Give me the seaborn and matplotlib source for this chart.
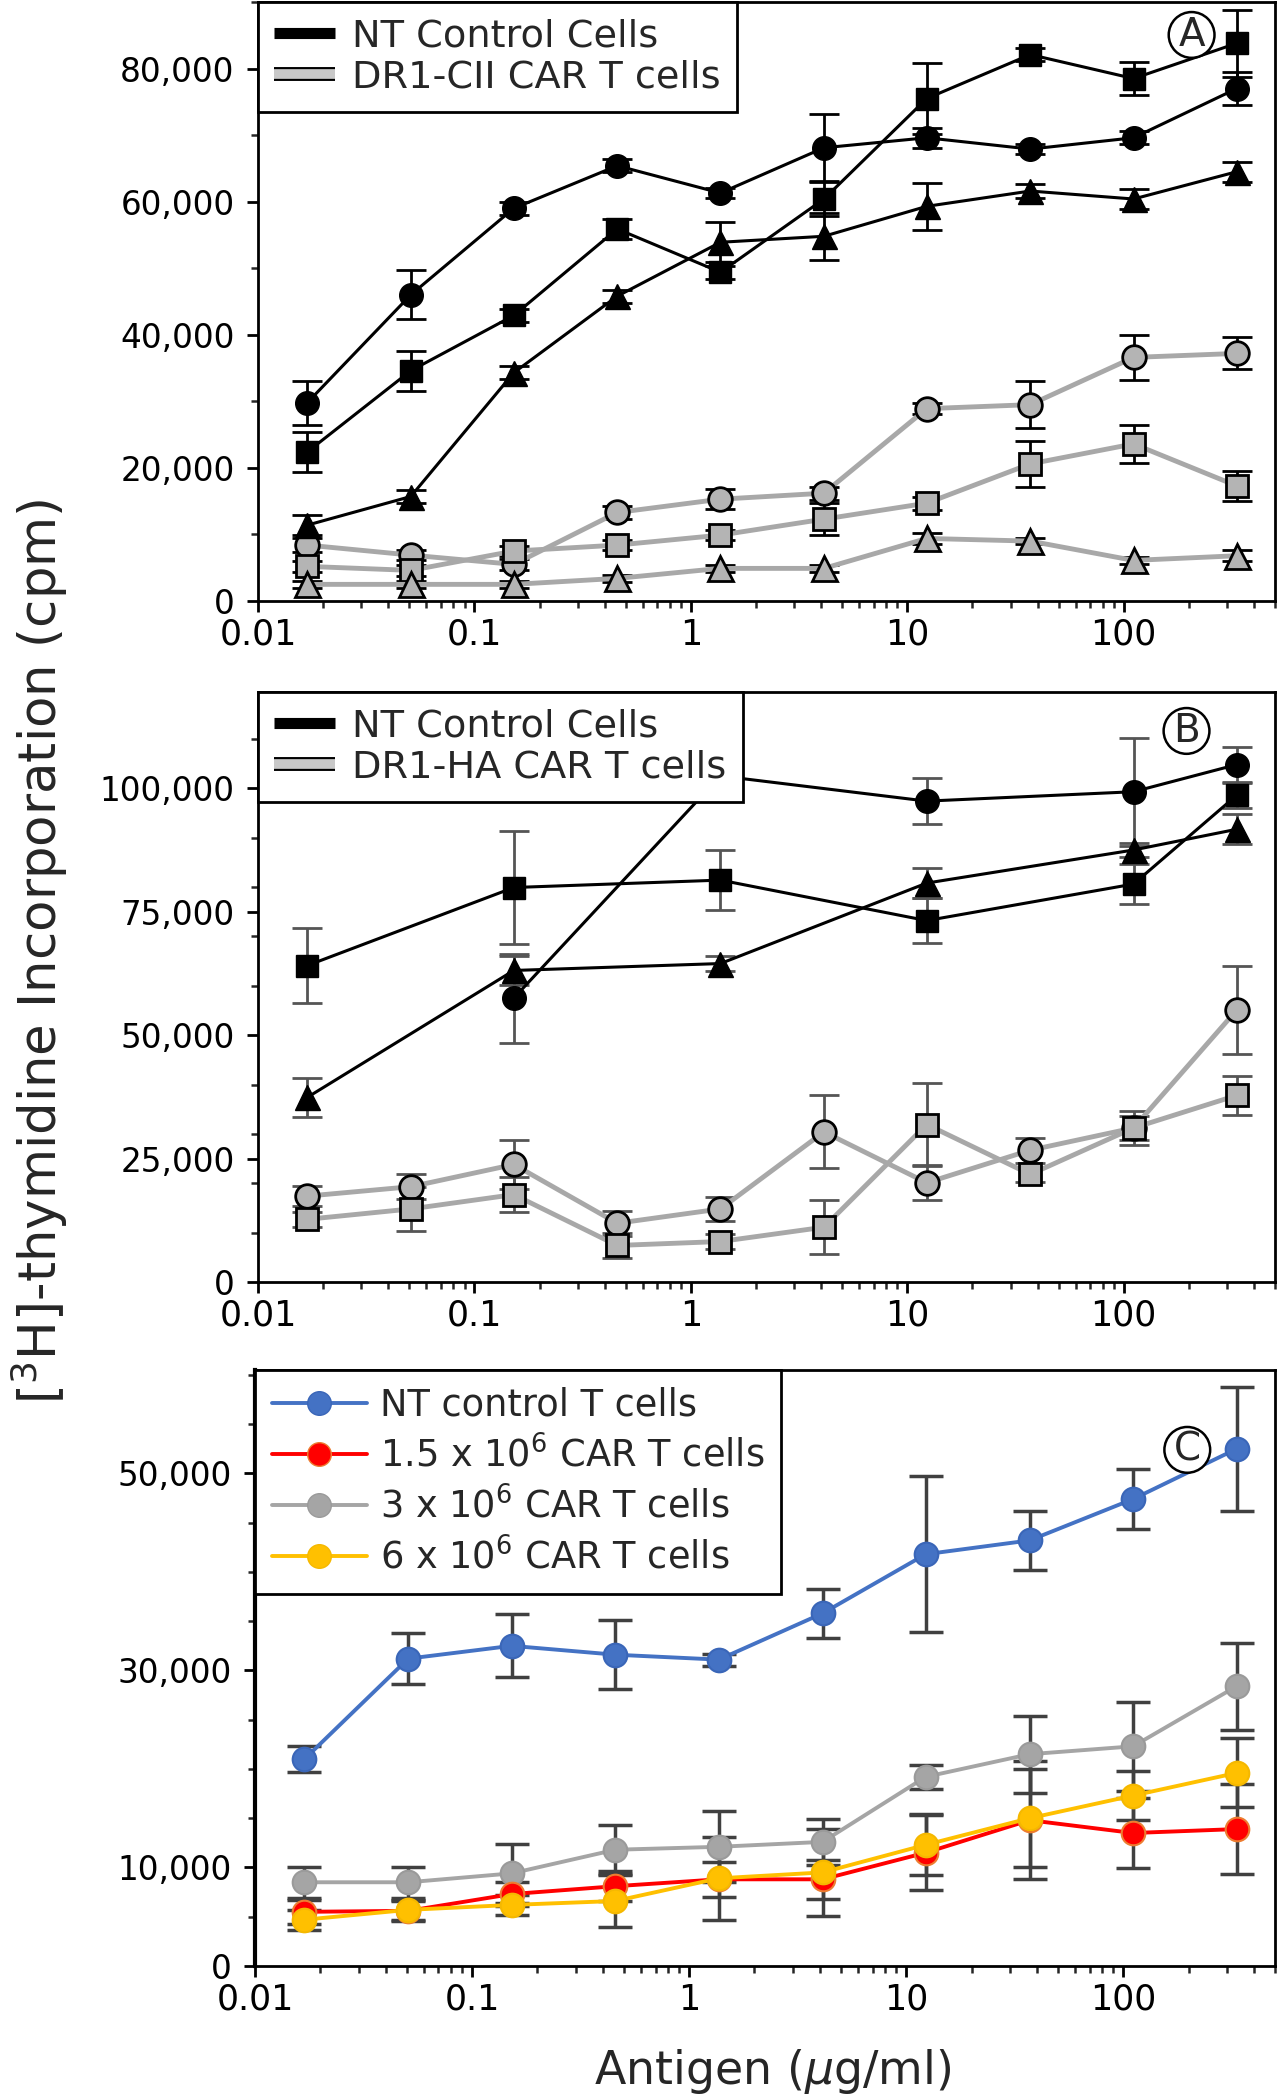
import numpy as np
import pandas as pd
import matplotlib
matplotlib.use("Agg")
import matplotlib.pyplot as plt
import matplotlib.ticker as mticker
import matplotlib.patheffects as pe
from matplotlib.lines import Line2D
import seaborn as sns

# ---------------- data ----------------
antigen = [0.0169, 0.0508, 0.152, 0.457, 1.37, 4.12, 12.3, 37.0, 111, 333]
x_ticks = [0.01, 0.1, 1, 10, 100]
x_tick_labels = ["0.01", "0.1", "1", "10", "100"]

# Panel A
A_nt_circle = [29800, 46000, 59000, 65400, 61300, 68100, 69600, 67900, 69600, 77000]
A_nt_circle_err = [3300, 3700, 1000, 1000, 800, 5000, 1500, 800, 1000, 2500]
A_nt_square = [22400, 34600, 42900, 55900, 49400, 60400, 75500, 82100, 78500, 83800]
A_nt_square_err = [3000, 3000, 1000, 1500, 1000, 2500, 5400, 1000, 2500, 5000]
A_nt_tri = [11400, 15700, 34300, 45800, 53900, 54800, 59300, 61600, 60400, 64500]
A_nt_tri_err = [1500, 1000, 1000, 1000, 3000, 3500, 3500, 1000, 1500, 1500]
A_car_circle = [8400, 6900, 5500, 13300, 15300, 16200, 28900, 29500, 36600, 37200]
A_car_circle_err = [1000, 800, 800, 1000, 1500, 1000, 800, 3500, 3400, 2400]
A_car_square = [5200, 4600, 7500, 8400, 9900, 12300, 14700, 20600, 23600, 17300]
A_car_square_err = [800, 800, 800, 800, 800, 2400, 1000, 3400, 2800, 2300]
A_car_tri = [2500, 2500, 2500, 3400, 4900, 4900, 9400, 9000, 6100, 6800]
A_car_tri_err = [500, 500, 500, 500, 500, 500, 800, 500, 500, 800]

# Panel B
B_nt_circle_x = [0.152, 1.37, 12.3, 111, 333]
B_nt_circle = [57500, 102500, 97400, 99300, 104800]
B_nt_circle_err = [9000, 0, 4600, 10900, 3600]
B_nt_sq_x = [0.0169, 0.152, 1.37, 12.3, 111, 333]
B_nt_square = [64100, 79900, 81400, 73200, 80600, 98600]
B_nt_square_err = [7500, 11500, 6000, 4500, 4000, 2500]
B_nt_tri = [37400, 63100, 64500, 80800, 87500, 91700]
B_nt_tri_err = [4000, 3000, 1500, 3000, 1500, 3000]
B_car_circle = [17400, 19300, 23800, 11900, 14800, 30400, 20100, 26700, 31200, 55100]
B_car_circle_err = [2000, 2500, 5000, 2500, 2500, 7400, 3500, 2500, 2500, 9000]
B_car_square = [12700, 14800, 17700, 7400, 8200, 11100, 31900, 21800, 31200, 37800]
B_car_square_err = [1500, 4500, 3500, 2500, 1500, 5500, 8500, 1500, 3500, 4000]

# Panel C
C_labels = ["NT control T cells", "1.5 x 10$^6$ CAR T cells",
            "3 x 10$^6$ CAR T cells", "6 x 10$^6$ CAR T cells"]
C_nt = [21000, 31200, 32500, 31600, 31100, 35800, 41800, 43200, 47400, 52500]
C_nt_err = [1300, 2600, 3200, 3500, 600, 2500, 7900, 3000, 3000, 6300]
C_15 = [5500, 5600, 7300, 8100, 8800, 8800, 11500, 14800, 13500, 13900]
C_15_err = [1200, 1000, 1200, 1500, 1800, 2000, 3800, 6000, 3600, 4600]
C_3 = [8500, 8500, 9400, 11800, 12100, 12600, 19200, 21500, 22300, 28400]
C_3_err = [1600, 1600, 3000, 2500, 3600, 2300, 1200, 3900, 4500, 4400]
C_6 = [4700, 5700, 6200, 6600, 8900, 9500, 12300, 15000, 17300, 19600]
C_6_err = [1000, 1000, 1000, 2600, 4200, 4400, 3100, 5000, 2500, 3500]

# ---------------- style ----------------
sns.set_theme(style="ticks")
plt.rcParams["font.family"] = ["DejaVu Sans"]
plt.rcParams["axes.linewidth"] = 2.0

fig = plt.figure(figsize=(12.79, 21.0), dpi=100)
axA = fig.add_axes([258/1279, 1 - 601/2100, 1017/1279, 599/2100])
axB = fig.add_axes([258/1279, 1 - 1282/2100, 1017/1279, 590/2100])
axC = fig.add_axes([255/1279, 1 - 1966/2100, 1020/1279, 596/2100])

BLACK = "black"
GRAY_LINE = "#a8a8a8"
GRAY_FILL = "#b4b4b4"


def series(ax, x, y, err, color, marker, ms, lw, mfc, mec, mew, ecolor, elw=2.0, cap=11):
    ax.errorbar(x, y, yerr=err, fmt="none", ecolor=ecolor, elinewidth=elw,
                capsize=cap, capthick=elw, zorder=2)
    sns.lineplot(x=x, y=y, ax=ax, color=color, marker=marker, markersize=ms,
                 linewidth=lw, markerfacecolor=mfc, markeredgecolor=mec,
                 markeredgewidth=mew, legend=False, errorbar=None, zorder=3)


def fmt_axis(ax):
    ax.set_xscale("log")
    ax.set_xlim(0.01, 500)
    ax.xaxis.set_major_locator(mticker.FixedLocator(x_ticks))
    ax.xaxis.set_major_formatter(mticker.FixedFormatter(x_tick_labels))
    ax.xaxis.set_minor_locator(mticker.LogLocator(base=10, subs=np.arange(2, 10)))
    ax.xaxis.set_minor_formatter(mticker.NullFormatter())
    ax.tick_params(axis="both", which="major", direction="out", length=8, width=2,
                   colors="black")
    ax.tick_params(axis="both", which="minor", direction="out", length=5, width=1.8)
    ax.tick_params(axis="x", which="major", pad=4, labelsize=25)
    ax.tick_params(axis="y", which="major", pad=9, labelsize=23.5)
    for s in ax.spines.values():
        s.set_linewidth(2)
        s.set_color("black")
    ax.set_xlabel("")
    ax.set_ylabel("")


def circled(ax, letter, x, y):
    ax.text(x, y, letter, transform=ax.transAxes, ha="center", va="center",
            fontsize=28, zorder=10,
            bbox=dict(boxstyle="circle,pad=0.1", fc="white", ec="black", lw=1.8))


comma = mticker.FuncFormatter(lambda v, p: f"{v:,.0f}")

# ---------------- Panel A ----------------
ax = axA
series(ax, antigen, A_car_circle, A_car_circle_err, GRAY_LINE, "o", 17, 3.5, GRAY_FILL, BLACK, 2, BLACK)
series(ax, antigen, A_car_square, A_car_square_err, GRAY_LINE, "s", 16, 3.5, GRAY_FILL, BLACK, 2, BLACK)
series(ax, antigen, A_car_tri, A_car_tri_err, GRAY_LINE, "^", 18, 3.5, GRAY_FILL, BLACK, 2, BLACK)
series(ax, antigen, A_nt_circle, A_nt_circle_err, BLACK, "o", 17, 2.2, BLACK, BLACK, 1, BLACK)
series(ax, antigen, A_nt_square, A_nt_square_err, BLACK, "s", 16, 2.2, BLACK, BLACK, 1, BLACK)
series(ax, antigen, A_nt_tri, A_nt_tri_err, BLACK, "^", 18, 2.2, BLACK, BLACK, 1, BLACK)
fmt_axis(ax)
ax.set_ylim(0, 90000)
ax.yaxis.set_major_locator(mticker.MultipleLocator(20000))
ax.yaxis.set_minor_locator(mticker.MultipleLocator(10000))
ax.yaxis.set_major_formatter(comma)
circled(ax, "A", 0.918, 0.945)

# ---------------- Panel B ----------------
ax = axB
EB = "#555555"
series(ax, antigen, B_car_circle, B_car_circle_err, GRAY_LINE, "o", 17, 3.5, GRAY_FILL, BLACK, 2, EB)
series(ax, antigen, B_car_square, B_car_square_err, GRAY_LINE, "s", 16, 3.5, GRAY_FILL, BLACK, 2, EB)
series(ax, B_nt_circle_x, B_nt_circle, B_nt_circle_err, BLACK, "o", 17, 2.2, BLACK, BLACK, 1, EB)
series(ax, B_nt_sq_x, B_nt_square, B_nt_square_err, BLACK, "s", 16, 2.2, BLACK, BLACK, 1, EB)
series(ax, B_nt_sq_x, B_nt_tri, B_nt_tri_err, BLACK, "^", 18, 2.2, BLACK, BLACK, 1, EB)
fmt_axis(ax)
ax.set_ylim(0, 119500)
ax.yaxis.set_major_locator(mticker.MultipleLocator(25000))
ax.yaxis.set_minor_locator(mticker.MultipleLocator(10000))
ax.yaxis.set_major_formatter(comma)
circled(ax, "B", 0.913, 0.934)

# legends A / B
def bar_handles():
    h_nt = Line2D([], [], color="black", lw=8, solid_capstyle="butt")
    h_car = Line2D([], [], color="#c8c8c8", lw=7, solid_capstyle="butt",
                   path_effects=[pe.Stroke(linewidth=10, foreground="black"), pe.Normal()])
    return [h_nt, h_car]

for ax, lab in [(axA, "DR1-CII CAR T cells"), (axB, "DR1-HA CAR T cells")]:
    leg = ax.legend(bar_handles(), ["NT Control Cells", lab], loc="upper left",
                    bbox_to_anchor=(0, 1), borderaxespad=0, fontsize=27.5,
                    frameon=True, fancybox=False, framealpha=1, edgecolor="black",
                    borderpad=0.42, labelspacing=0.15, handlelength=1.6,
                    handletextpad=0.45)
    leg.get_frame().set_linewidth(2)
    leg.set_zorder(20)

# ---------------- Panel C ----------------
ax = axC
EC = "#404040"
c_specs = [
    (C_nt, C_nt_err, "#4472C4", "#3a66b8"),
    (C_3, C_3_err, "#A5A5A5", "#9a9a9a"),
    (C_15, C_15_err, "#FF0000", "#ED7D31"),
    (C_6, C_6_err, "#FFC000", "#F5B800"),
]
for y, e, col, ecol in c_specs:
    series(ax, antigen, y, e, col, "o", 17, 2.8, col, ecol, 1.5, EC, elw=2.5, cap=12)
fmt_axis(ax)
ax.set_ylim(0, 60500)
ax.yaxis.set_major_locator(mticker.FixedLocator([0, 10000, 30000, 50000]))
ax.yaxis.set_minor_locator(mticker.MultipleLocator(5000))
ax.yaxis.set_major_formatter(comma)
ax.spines["left"].set_linewidth(3)
circled(ax, "C", 0.914, 0.866)

c_handles = [
    Line2D([], [], color="#4472C4", lw=2.8, marker="o", markersize=17, markeredgecolor="#3a66b8"),
    Line2D([], [], color="#FF0000", lw=2.8, marker="o", markersize=17, markeredgecolor="#ED7D31"),
    Line2D([], [], color="#A5A5A5", lw=2.8, marker="o", markersize=17, markeredgecolor="#9a9a9a"),
    Line2D([], [], color="#FFC000", lw=2.8, marker="o", markersize=17, markeredgecolor="#F5B800"),
]
legC = ax.legend(c_handles, C_labels, loc="upper left", bbox_to_anchor=(0, 1),
                 borderaxespad=0, fontsize=26.5, frameon=True, fancybox=False,
                 framealpha=1, edgecolor="black", borderpad=0.45, labelspacing=0.33,
                 handlelength=2.6, handletextpad=0.35)
legC.get_frame().set_linewidth(2)
legC.set_zorder(20)

# ---------------- shared labels ----------------
fig.text(0.0305, 0.547, "[$^3$H]-thymidine Incorporation (cpm)", rotation=90,
         ha="center", va="center", fontsize=37)
fig.text(0.604, 0.0135, "Antigen ($\\mu$g/ml)", ha="center", va="center", fontsize=33)

fig.savefig("out.png", dpi=100)
